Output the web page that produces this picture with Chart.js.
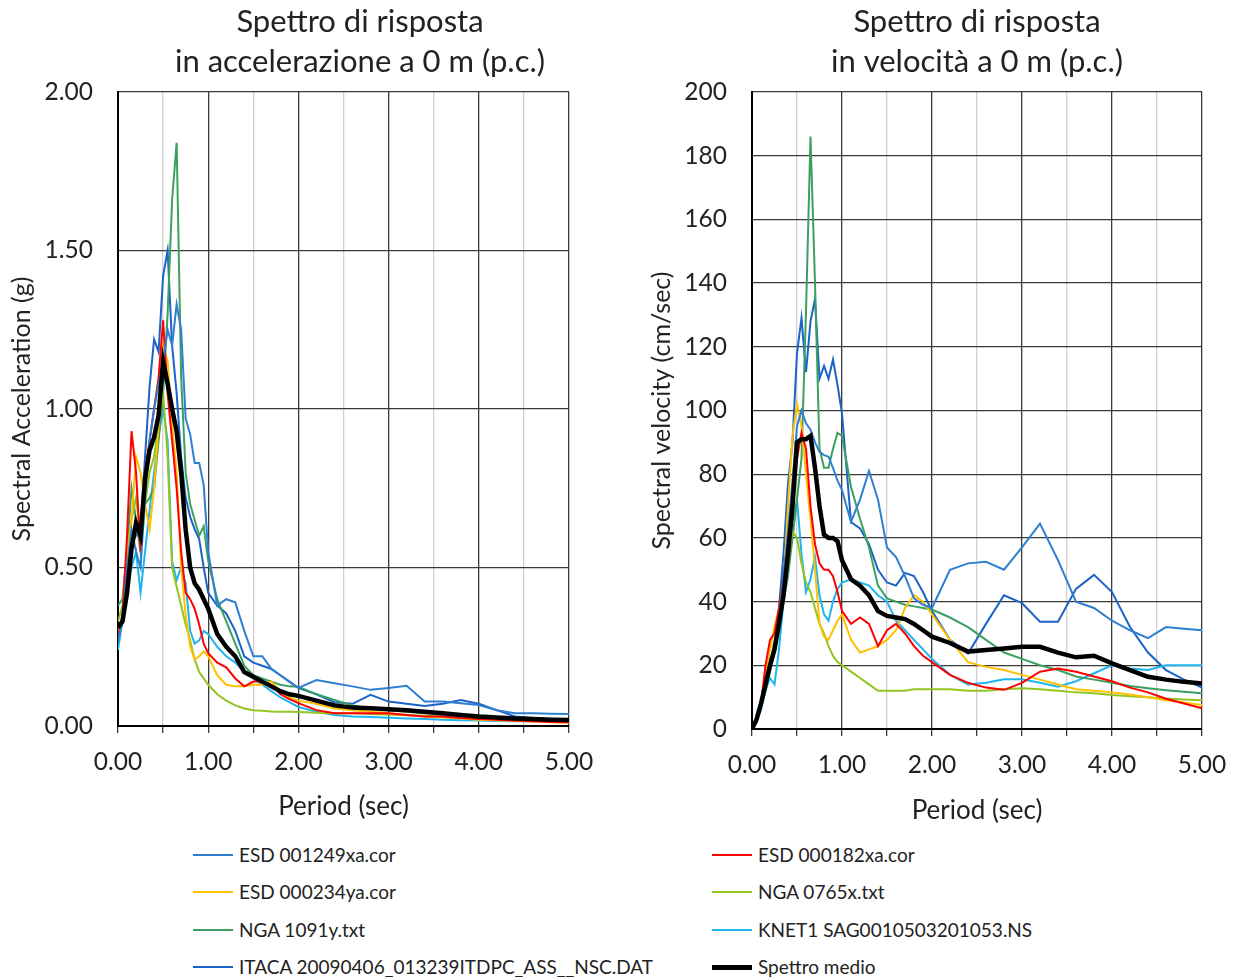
<!DOCTYPE html>
<html>
<head>
<meta charset="utf-8">
<script src="https://cdn.jsdelivr.net/npm/chart.js@4.4.1/dist/chart.umd.min.js"></script>
<style>
	html, body { margin: 0; padding: 0; background: #fff; width: 1241px; height: 977px; overflow: hidden; }
	canvas { position: absolute; top: 0; }
	#accChart { left: 0; }
	#velChart { left: 640px; }
	.leg { position: absolute; font-family: Lato, 'Open Sans', sans-serif; font-size: 19px; color: #222; white-space: nowrap; line-height: 24px; }
	.leg span.ln { position: absolute; width: 40px; }
</style>
</head>
<body>
<canvas id="accChart" width="720" height="830"></canvas>
<canvas id="velChart" width="601" height="833"></canvas>
<div id="legend"></div>
<script>
// periods (sec)
var periods = [0, 0.05, 0.1, 0.15, 0.2, 0.25, 0.3, 0.35, 0.4, 0.45,
	0.5, 0.55, 0.6, 0.65, 0.7, 0.75, 0.8, 0.85, 0.9, 0.95,
	1.0, 1.1, 1.2, 1.3, 1.4, 1.5, 1.6, 1.7, 1.8, 1.9,
	2.0, 2.2, 2.4, 2.6, 2.8, 3.0, 3.2, 3.4, 3.6, 3.8,
	4.0, 4.2, 4.4, 4.6, 4.8, 5.0];

var seriesNames = ['ESD 001249xa.cor', 'ESD 000182xa.cor', 'ESD 000234ya.cor', 'NGA 0765x.txt',
	'NGA 1091y.txt', 'KNET1 SAG0010503201053.NS', 'ITACA 20090406_013239ITDPC_ASS__NSC.DAT', 'Spettro medio'];
var seriesColors = ['#2E7FD2', '#FF0000', '#FFC000', '#92C520', '#3AA060', '#1FB4EE', '#1B63C6', '#000000'];

// spectral acceleration (g)
var saEsd001249 = [0.27, 0.33, 0.50, 0.62, 0.55, 0.50, 0.72, 0.90, 1.00, 1.08,
	1.15, 1.25, 1.20, 1.33, 1.25, 0.97, 0.92, 0.83, 0.83, 0.76,
	0.55, 0.38, 0.40, 0.39, 0.30, 0.22, 0.22, 0.18, 0.16, 0.14,
	0.12, 0.145, 0.135, 0.125, 0.114, 0.12, 0.127, 0.077, 0.077, 0.072,
	0.066, 0.05, 0.04, 0.04, 0.039, 0.038];
var saEsd000182 = [0.28, 0.35, 0.60, 0.93, 0.80, 0.55, 0.80, 0.90, 1.00, 1.10,
	1.28, 1.05, 0.90, 0.75, 0.55, 0.42, 0.40, 0.37, 0.32, 0.26,
	0.23, 0.20, 0.185, 0.15, 0.125, 0.14, 0.14, 0.13, 0.10, 0.085,
	0.072, 0.05, 0.04, 0.04, 0.04, 0.04, 0.035, 0.03, 0.03, 0.025,
	0.022, 0.02, 0.017, 0.015, 0.013, 0.012];
var saEsd000234 = [0.30, 0.33, 0.50, 0.65, 0.85, 0.80, 0.70, 0.62, 0.75, 0.95,
	1.20, 1.15, 0.95, 0.80, 0.50, 0.35, 0.25, 0.21, 0.22, 0.235,
	0.22, 0.16, 0.13, 0.125, 0.125, 0.13, 0.13, 0.14, 0.11, 0.09,
	0.08, 0.07, 0.055, 0.05, 0.045, 0.04, 0.035, 0.03, 0.027, 0.024,
	0.02, 0.018, 0.016, 0.014, 0.012, 0.01];
var saNga0765 = [0.33, 0.38, 0.55, 0.65, 0.72, 0.60, 0.70, 0.80, 0.85, 0.95,
	1.05, 0.85, 0.50, 0.44, 0.38, 0.32, 0.27, 0.21, 0.17, 0.15,
	0.13, 0.10, 0.08, 0.065, 0.055, 0.05, 0.048, 0.046, 0.045, 0.045,
	0.044, 0.042, 0.04, 0.04, 0.038, 0.036, 0.034, 0.032, 0.03, 0.03,
	0.028, 0.026, 0.024, 0.022, 0.021, 0.02];
var saNga1091 = [0.38, 0.40, 0.55, 0.75, 0.65, 0.55, 0.70, 0.72, 0.75, 0.90,
	1.05, 1.30, 1.66, 1.84, 1.10, 0.80, 0.70, 0.65, 0.60, 0.63,
	0.52, 0.40, 0.33, 0.26, 0.19, 0.16, 0.15, 0.14, 0.13, 0.125,
	0.124, 0.10, 0.082, 0.065, 0.055, 0.05, 0.045, 0.04, 0.036, 0.033,
	0.03, 0.027, 0.025, 0.023, 0.021, 0.02];
var saKnet1 = [0.24, 0.33, 0.42, 0.50, 0.55, 0.42, 0.55, 0.68, 0.80, 0.92,
	1.00, 0.90, 0.52, 0.46, 0.50, 0.45, 0.30, 0.26, 0.27, 0.30,
	0.29, 0.25, 0.22, 0.20, 0.17, 0.15, 0.13, 0.11, 0.09, 0.075,
	0.06, 0.045, 0.035, 0.03, 0.028, 0.026, 0.024, 0.022, 0.02, 0.018,
	0.017, 0.016, 0.015, 0.015, 0.015, 0.015];
var saItaca = [0.30, 0.33, 0.45, 0.58, 0.60, 0.62, 0.85, 1.07, 1.22, 1.18,
	1.42, 1.50, 1.20, 1.05, 0.85, 0.72, 0.66, 0.62, 0.59, 0.50,
	0.42, 0.38, 0.355, 0.30, 0.22, 0.20, 0.19, 0.18, 0.16, 0.14,
	0.12, 0.10, 0.075, 0.07, 0.098, 0.077, 0.07, 0.063, 0.07, 0.082,
	0.07, 0.05, 0.03, 0.025, 0.022, 0.02];
var saMedio = [0.31, 0.33, 0.42, 0.56, 0.64, 0.60, 0.78, 0.87, 0.91, 0.98,
	1.15, 1.08, 1.00, 0.93, 0.80, 0.62, 0.50, 0.45, 0.43, 0.40,
	0.37, 0.29, 0.25, 0.22, 0.17, 0.155, 0.14, 0.125, 0.11, 0.10,
	0.095, 0.08, 0.065, 0.058, 0.056, 0.053, 0.05, 0.045, 0.04, 0.035,
	0.03, 0.027, 0.024, 0.022, 0.02, 0.019];

// spectral velocity (cm/sec)
var svEsd001249 = [0, 3, 8, 14, 20, 26, 35, 48, 62, 78,
	95, 100, 96, 94, 90, 87, 86, 85.5, 82, 78,
	75, 65, 72, 81, 72, 57, 54, 48, 41, 39,
	38, 50, 52, 52.5, 50, 57, 64.5, 53, 40, 38,
	34, 31, 28.5, 32, 31.5, 31];
var svEsd000182 = [0, 3, 8, 20, 28, 30, 38, 48, 60, 72,
	85, 93, 88, 70, 58, 52, 50, 50, 48, 43,
	37, 33, 35, 33, 26, 31, 33, 30, 26, 23,
	21, 17, 14.5, 13, 12.3, 14.5, 18, 19, 18, 16.5,
	15, 13, 11.5, 9.5, 8, 6.5];
var svEsd000234 = [0, 3, 9, 17, 25, 32, 38, 45, 70, 92,
	102, 95, 80, 66, 50, 33, 29, 28, 31, 34,
	36, 28, 24, 25, 26, 28, 31, 38, 42, 40,
	36, 28, 21, 19.5, 18.5, 17, 15.5, 14, 12.5, 12,
	11.5, 10.8, 10, 9, 8.3, 7.5];
var svNga0765 = [0, 3, 8, 14, 20, 28, 36, 45, 55, 62,
	60, 52, 46, 43, 38, 33, 30, 26, 23, 21,
	20, 18, 16, 14, 12, 12, 12, 12, 12.5, 12.5,
	12.5, 12.5, 12, 12, 12.5, 12.8, 12.5, 12, 11.5, 11.2,
	10.7, 10.3, 10, 9.6, 9.3, 9];
var svNga1091 = [0, 3, 7, 12, 18, 24, 32, 40, 48, 60,
	72, 85, 131, 186, 140, 88, 82, 82, 88, 93,
	92, 76, 66, 57, 45, 41, 40, 39, 38.5, 38,
	37.5, 35, 32, 28, 24, 22, 20, 18.5, 16.5, 15.5,
	14.5, 13.5, 12.8, 12.2, 11.7, 11.2];
var svKnet1 = [0, 2, 6, 12, 16, 14, 25, 40, 55, 65,
	72, 55, 43, 47, 54, 42, 36, 34, 40, 44,
	46, 47, 46, 45, 42, 40, 34, 31, 28, 25,
	22, 17, 14, 14.5, 15.6, 15.6, 14.5, 13.3, 15, 17.5,
	20, 19, 18.5, 20, 20, 20];
var svItaca = [0, 3, 8, 15, 22, 25, 38, 55, 77, 90,
	118, 129, 112, 128, 135, 110, 114, 110, 116, 108,
	99, 65, 63, 58, 50, 46, 45, 49, 48, 43,
	37, 28, 23.7, 33, 42, 39.5, 33.7, 33.7, 44, 48.4,
	43, 32, 24, 18.5, 15.5, 13];
var svMedio = [0, 3, 8, 14, 20, 25, 33, 42, 55, 70,
	90, 91, 91, 92, 82, 70, 61, 60, 60, 59,
	53, 47, 45, 42, 37, 35.5, 35, 34.5, 33, 31,
	29, 27, 24.3, 24.8, 25.3, 25.8, 25.8, 24, 22.5, 23,
	20.6, 18.5, 16.4, 15.5, 14.8, 14.3];

var saSeries = [saEsd001249, saEsd000182, saEsd000234, saNga0765, saNga1091, saKnet1, saItaca, saMedio];
var svSeries = [svEsd001249, svEsd000182, svEsd000234, svNga0765, svNga1091, svKnet1, svItaca, svMedio];

var fontFam = "Lato, 'Open Sans', sans-serif";
var textColor = '#222';

function buildDatasets(series) {
	let datasets = [];
	for (let i = 0; i < series.length; i++) {
		let pts = [];
		for (let j = 0; j < periods.length; j++) {
			pts.push({ x: periods[j], y: series[i][j] });
		}
		let isMean = (i == series.length - 1);
		datasets.push({
			label: seriesNames[i],
			data: pts,
			borderColor: seriesColors[i],
			backgroundColor: seriesColors[i],
			borderWidth: isMean ? 4.5 : 2,
			pointRadius: 0,
			tension: 0,
			order: isMean ? 0 : 1
		});
	}
	return datasets;
}

function makeChart(id, cfg) {
	let scales = {
		x: {
			type: 'linear',
			min: 0,
			max: 5,
			afterFit: function (scale) { scale.height = cfg.xHeight; },
			border: { color: '#000', width: 2 },
			grid: {
				color: function (ctx) {
					return (ctx.tick && Math.abs(ctx.tick.value % 1) < 1e-6) ? '#3a3a3a' : '#d0d0d0';
				},
				lineWidth: 1.3,
				tickColor: '#3a3a3a',
				tickLength: 7
			},
			ticks: {
				stepSize: 0.5,
				autoSkip: false,
				maxRotation: 0,
				padding: 14,
				color: textColor,
				font: { family: fontFam, size: 24.5 },
				callback: function (v) { return Math.abs(v % 1) < 1e-6 ? v.toFixed(2) : ''; }
			},
			title: {
				display: true,
				text: 'Period (sec)',
				color: textColor,
				font: { family: fontFam, size: 26 },
				padding: { top: 0, bottom: cfg.xTitlePad }
			}
		},
		y: {
			min: 0,
			max: cfg.yMax,
			afterFit: function (scale) { scale.width = cfg.yWidth; },
			border: { color: '#000', width: 2 },
			grid: { color: '#3a3a3a', lineWidth: 1.3, drawTicks: false },
			ticks: {
				stepSize: cfg.yStep,
				padding: 25,
				color: textColor,
				font: { family: fontFam, size: 24.5 },
				callback: cfg.yFormat
			},
			title: {
				display: true,
				text: cfg.yTitle,
				color: textColor,
				font: { family: fontFam, size: 25 },
				padding: { top: 7, bottom: 0 }
			}
		}
	};
	// empty space on the right so the full-width title sits where the reference has it
	if (cfg.rightSpace) {
		scales.space = {
			position: 'right',
			display: true,
			afterFit: function (scale) { scale.width = cfg.rightSpace; },
			grid: { display: false },
			border: { display: false },
			ticks: { display: false }
		};
	}
	return new Chart(document.getElementById(id), {
		type: 'line',
		data: { datasets: buildDatasets(cfg.series) },
		options: {
			responsive: false,
			animation: false,
			layout: { padding: { left: 0, top: 0, bottom: 0, right: cfg.padRight } },
			plugins: {
				legend: { display: false },
				tooltip: { enabled: false },
				title: {
					display: true,
					text: cfg.title,
					fullSize: cfg.fullTitle,
					color: textColor,
					font: { family: fontFam, size: 31, weight: 'normal', lineHeight: 1.29 },
					padding: { top: 2, bottom: 10 }
				}
			},
			scales: scales
		}
	});
}

makeChart('accChart', {
	series: saSeries,
	title: ['Spettro di risposta', 'in accelerazione a 0 m (p.c.)'],
	fullTitle: true,
	padRight: 0,
	rightSpace: 151,
	xHeight: 104,
	xTitlePad: 8,
	yWidth: 118,
	yMax: 2,
	yStep: 0.5,
	yTitle: 'Spectral Acceleration (g)',
	yFormat: function (v) { return v.toFixed(2); }
});

makeChart('velChart', {
	series: svSeries,
	title: ['Spettro di risposta', 'in velocità a 0 m (p.c.)'],
	fullTitle: false,
	padRight: 39,
	xHeight: 104,
	xTitlePad: 7,
	yWidth: 112,
	yMax: 200,
	yStep: 20,
	yTitle: 'Spectral velocity (cm/sec)',
	yFormat: function (v) { return v; }
});

// legend below both charts, two columns
var legendRows = [855, 892, 930, 967];
var legendCols = [193, 712];
var legendEl = document.getElementById('legend');
for (let i = 0; i < seriesNames.length; i++) {
	let row = Math.floor(i / 2);
	let col = i % 2;
	let item = document.createElement('div');
	item.className = 'leg';
	item.style.left = legendCols[col] + 'px';
	item.style.top = (legendRows[row] - 12) + 'px';
	let ln = document.createElement('span');
	ln.className = 'ln';
	let thick = (i == seriesNames.length - 1) ? 5 : 2.5;
	ln.style.height = thick + 'px';
	ln.style.top = (12 - thick / 2) + 'px';
	ln.style.left = '0px';
	ln.style.background = seriesColors[i];
	let txt = document.createElement('span');
	txt.style.marginLeft = '46px';
	txt.textContent = seriesNames[i];
	item.appendChild(ln);
	item.appendChild(txt);
	legendEl.appendChild(item);
}
</script>
</body>
</html>
